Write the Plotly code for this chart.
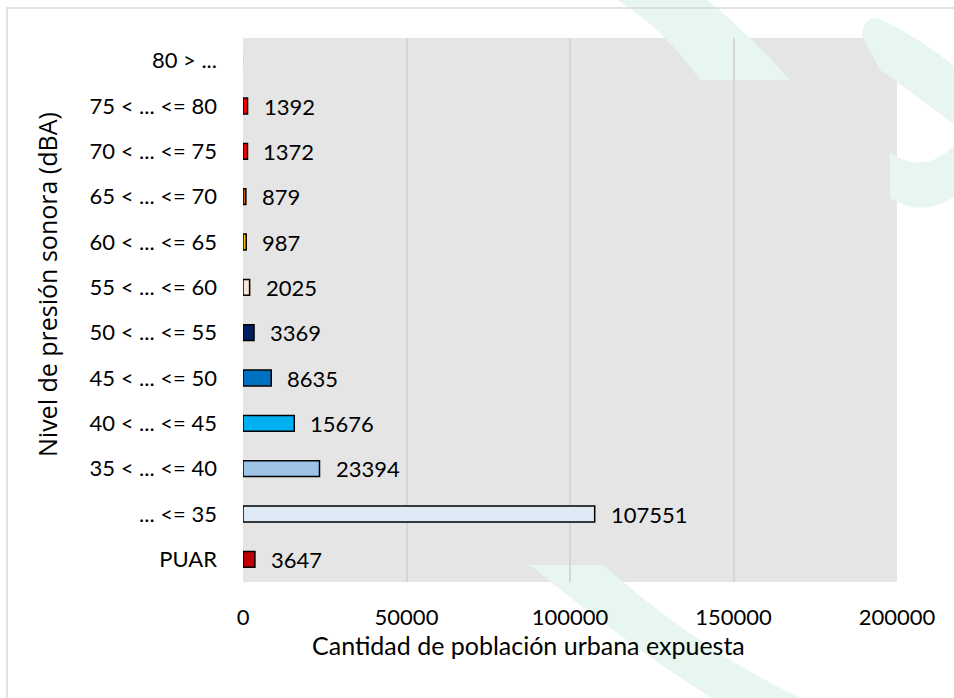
import plotly.graph_objects as go

# Datos
categorias = ["PUAR", "... <= 35", "35 < ... <= 40", "40 < ... <= 45", "45 < ... <= 50",
              "50 < ... <= 55", "55 < ... <= 60", "60 < ... <= 65", "65 < ... <= 70",
              "70 < ... <= 75", "75 < ... <= 80", "80 > ..."]
poblacion = [3647, 107551, 23394, 15676, 8635, 3369, 2025, 987, 879, 1372, 1392, 0]
colores = ["#C00000", "#DEEBF7", "#9DC3E6", "#00B0F0", "#0070C0", "#002060",
           "#FBE5D6", "#FFC000", "#C55A11", "#FF0000", "#FF0000", "#F8CBAD"]
bordes = ["black"] * 11 + ["#F8CBAD"]
ticks_x = [0, 50000, 100000, 150000, 200000]

FONT = "Lato"
W_FIG, H_FIG = 954, 698
L, T, R, B = 243, 38, 57, 116
PW, PH = W_FIG - L - R, H_FIG - T - B


def px(x):
    return (x - L) / PW


def py(y):
    return 1 - (y - T) / PH


def P(a, b):
    return f"{px(a):.4f},{py(b):.4f}"


fig = go.Figure()
fig.add_trace(go.Bar(
    y=categorias, x=poblacion, orientation="h",
    marker=dict(color=colores, line=dict(color=bordes, width=1.5)),
    width=0.35, hoverinfo="x+y",
))

# etiquetas de datos
for c, v in zip(categorias, poblacion):
    if v > 0:
        fig.add_annotation(x=v, y=c, text=str(v), showarrow=False, xanchor="left",
                           xshift=14, font=dict(family=FONT, size=22, color="black"))

# marca de agua verde (decorativa) y borde del grafico
verde = "#E7F6EF"
marcas = [
    # trazo diagonal superior
    f"M {P(617, 0)} L {P(707, 0)} Q {P(745, 30)} {P(790, 80)} L {P(700, 80)} Q {P(665, 30)} {P(617, 0)} Z",
    # trazo superior derecho
    f"M {P(862, 36)} Q {P(862, 18)} {P(878, 18)} Q {P(920, 38)} {P(954, 66)} "
    f"L {P(954, 124)} Q {P(915, 95)} {P(880, 70)} Z",
    # arco inferior derecho
    f"M {P(890, 152)} Q {P(922, 176)} {P(954, 146)} L {P(954, 197)} "
    f"Q {P(922, 218)} {P(890, 198)} Z",
    # trazo inferior
    f"M {P(530, 565)} L {P(603, 565)} Q {P(700, 650)} {P(800, 698)} L {P(712, 698)} "
    f"Q {P(620, 640)} {P(530, 565)} Z",
]
shapes = [dict(type="path", xref="paper", yref="paper", path=p,
               fillcolor=verde, line=dict(width=0), layer="below") for p in marcas]
shapes.append(dict(type="rect", xref="paper", yref="paper", x0=px(7), y0=py(8),
                   x1=px(970), y1=py(720), line=dict(color="#D9D9D9", width=1.5),
                   layer="below"))

fig.add_annotation(x=px(528), y=py(645), xref="paper", yref="paper",
                   xanchor="center", yanchor="middle",
                   text="Cantidad de población urbana expuesta", showarrow=False,
                   font=dict(family=FONT, size=25, color="black"))
fig.add_annotation(x=px(47), y=py(285), xref="paper", yref="paper",
                   xanchor="center", yanchor="middle",
                   text="Nivel de presión sonora (dBA)", showarrow=False, textangle=-90,
                   font=dict(family="Open Sans", size=25, color="black"))

fig.update_layout(
    width=W_FIG, height=H_FIG,
    margin=dict(l=L, r=R, t=T, b=B),
    paper_bgcolor="white", plot_bgcolor="#E5E5E5",
    showlegend=False, shapes=shapes,
    font=dict(family=FONT, size=22, color="black"),
    xaxis=dict(range=[0, 200000], tickvals=ticks_x, ticktext=[str(t) for t in ticks_x],
               showgrid=True, gridcolor="#D6D6D6", gridwidth=1.5, zeroline=False,
               showline=False, ticks="", ticklabelstandoff=20),
    yaxis=dict(categoryorder="array", categoryarray=categorias, showgrid=False,
               zeroline=False, showline=False, ticks="", ticklabelstandoff=25),
)

fig.write_html("out.html", config={"displayModeBar": False},
               post_script="document.body.style.margin='0';")
